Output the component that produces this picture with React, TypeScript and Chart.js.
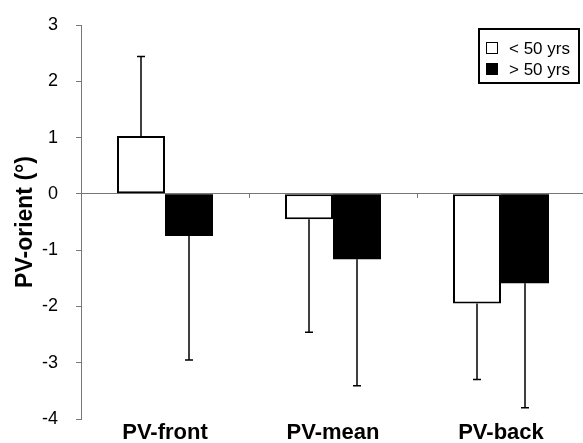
import React, { useEffect, useRef } from "react";
import { Chart, registerables } from "chart.js";

Chart.register(...registerables);

const categories = ["PV-front", "PV-mean", "PV-back"];
const under50 = [1.03, -0.45, -1.95];
const over50 = [-0.75, -1.16, -1.59];
const under50Sd = [1.41, 2.01, 1.35];
const over50Sd = [2.2, 2.25, 2.21];
const seriesLabels = ["< 50 yrs", "> 50 yrs"];
const yMin = -4;
const yMax = 3;
const yTitle = "PV-orient (°)";

const FONT = "Arial, 'Liberation Sans', sans-serif";

const errorBarPlugin = {
  id: "errorBars",
  afterDatasetsDraw(chart: any) {
    const ctx = chart.ctx;
    const yScale = chart.scales.y;
    const sds = [under50Sd, over50Sd];
    ctx.save();
    ctx.strokeStyle = "#000";
    ctx.lineWidth = 1.5;
    chart.data.datasets.forEach((ds: any, i: number) => {
      const meta = chart.getDatasetMeta(i);
      meta.data.forEach((el: any, j: number) => {
        const v = ds.data[j];
        const sd = sds[i][j];
        const end = v >= 0 ? v + sd : v - sd;
        const yEnd = yScale.getPixelForValue(end);
        ctx.beginPath();
        ctx.moveTo(el.x, el.y);
        ctx.lineTo(el.x, yEnd);
        ctx.moveTo(el.x - 4, yEnd);
        ctx.lineTo(el.x + 4, yEnd);
        ctx.stroke();
      });
    });
    const xScale = chart.scales.x;
    const y0 = yScale.getPixelForValue(0);
    ctx.strokeStyle = "#777";
    ctx.lineWidth = 1;
    for (let k = 1; k < categories.length; k++) {
      const xb = (xScale.getPixelForValue(k - 1) + xScale.getPixelForValue(k)) / 2;
      ctx.beginPath();
      ctx.moveTo(Math.round(xb) + 0.5, y0);
      ctx.lineTo(Math.round(xb) + 0.5, y0 + 4);
      ctx.stroke();
    }
    ctx.restore();
  },
};

const legendPlugin = {
  id: "boxLegend",
  afterDraw(chart: any) {
    const ctx = chart.ctx;
    ctx.save();
    ctx.strokeStyle = "#000";
    ctx.lineWidth = 2;
    ctx.strokeRect(479, 29, 100, 54);
    const rows = [48, 69];
    chart.data.datasets.forEach((ds: any, i: number) => {
      const y = rows[i];
      ctx.fillStyle = ds.backgroundColor;
      ctx.fillRect(486, y - 6, 12, 12);
      ctx.lineWidth = 1;
      ctx.strokeStyle = "#000";
      ctx.strokeRect(486.5, y - 5.5, 11, 11);
      ctx.fillStyle = "#000";
      ctx.font = "17px " + FONT;
      ctx.textBaseline = "middle";
      ctx.textAlign = "left";
      ctx.fillText(ds.label, 509, y + 1);
    });
    ctx.restore();
  },
};

export default function App() {
  const ref = useRef<HTMLCanvasElement>(null);
  useEffect(() => {
    if (!ref.current) return;
    const chart = new Chart(ref.current, {
      type: "bar",
      data: {
        labels: categories,
        datasets: [
          {
            label: seriesLabels[0],
            data: under50,
            backgroundColor: "#ffffff",
            borderColor: "#000000",
            borderWidth: 2,
            borderSkipped: false,
          },
          {
            label: seriesLabels[1],
            data: over50,
            backgroundColor: "#000000",
            borderColor: "#000000",
            borderWidth: 0,
          },
        ],
      },
      options: {
        responsive: false,
        animation: false,
        devicePixelRatio: 1,
        layout: { padding: { top: 25, left: 0, right: 0, bottom: 0 } },
        datasets: { bar: { categoryPercentage: 96 / 168, barPercentage: 1 } },
        plugins: { legend: { display: false }, tooltip: { enabled: false } },
        scales: {
          x: {
            grid: { display: false, drawTicks: false },
            border: { display: false },
            ticks: {
              color: "#000",
              padding: 1,
              font: { family: FONT, size: 22, weight: "bold" },
            },
            afterFit: (s: any) => {
              s.height = 24;
            },
          },
          y: {
            min: yMin,
            max: yMax,
            ticks: {
              stepSize: 1,
              color: "#000",
              padding: 18,
              font: { family: FONT, size: 18 },
            },
            grid: {
              color: (c: any) => (c.tick && c.tick.value === 0 ? "#777" : "rgba(0,0,0,0)"),
              tickColor: "#777",
              tickLength: 5,
            },
            border: { color: "#777", width: 1 },
            title: {
              display: true,
              text: yTitle,
              color: "#000",
              padding: { top: 12, bottom: 0 },
              font: { family: FONT, size: 23, weight: "bold" },
            },
            afterFit: (s: any) => {
              s.width = 81;
              s.paddingTop = 10;
              s.paddingBottom = 10;
            },
          },
        },
      },
      plugins: [errorBarPlugin, legendPlugin],
    });
    return () => chart.destroy();
  }, []);
  return (
    <div
      style={{
        position: "fixed",
        left: 0,
        top: 0,
        width: 583,
        height: 443,
        overflow: "hidden",
        background: "#fff",
      }}
    >
      <canvas ref={ref} width={585} height={443} style={{ display: "block" }} />
    </div>
  );
}
